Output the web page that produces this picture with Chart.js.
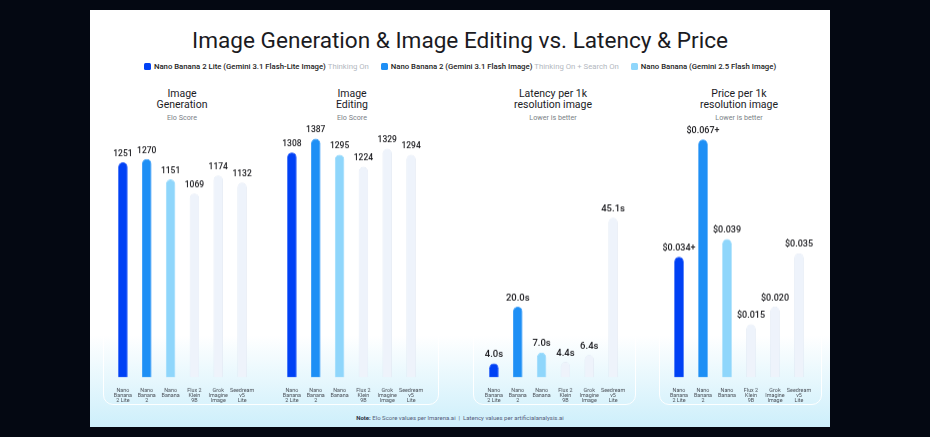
<!DOCTYPE html>
<html>
<head>
<meta charset="utf-8">
<script src="https://cdn.jsdelivr.net/npm/chart.js@4.4.1/dist/chart.umd.min.js"></script>
<style>
  html, body { margin: 0; padding: 0; }
  body { width: 930px; height: 437px; background: #040812; position: relative; overflow: hidden; font-family: Roboto, "Open Sans", sans-serif; }
  .card { position: absolute; left: 90px; top: 10px; width: 740px; height: 417px;
          background: linear-gradient(to bottom, #ffffff 0%, #ffffff 78%, #cdeffb 100%); }
  .title { position: absolute; left: 90px; width: 740px; top: 27px; text-align: center; font-size: 22.6px; color: #1b1b1f; }
  .legend { position: absolute; left: 90px; width: 740px; top: 62px; text-align: center; font-size: 7.75px; font-weight: 500; color: #222; white-space: nowrap; }
  .legend .sw { display: inline-block; width: 7px; height: 7px; border-radius: 1.5px; vertical-align: -1px; margin-right: 3px; }
  .legend .item { margin: 0 5px; }
  .legend .muted { color: #b3b8c0; font-weight: 400; }
  .panel { position: absolute; top: 80px; height: 323px; border: 1px solid rgba(255,255,255,0.95); border-radius: 10px; }
  .ptitle { position: absolute; width: 160px; text-align: center; top: 88px; font-size: 10.5px; line-height: 11px; color: #1b1b1f; }
  .psub { display: block; font-size: 7.2px; color: #7a7f86; margin-top: 4px; line-height: 8px; }
  .chartbox { position: absolute; top: 100px; height: 312.5px; }
  .foot { position: absolute; left: 90px; width: 740px; top: 414px; text-align: center; font-size: 6px; color: #56607a; }
  .foot b { color: #2a3142; }
</style>
</head>
<body>
<div class="card"></div>
<div class="title">Image Generation &amp; Image Editing vs. Latency &amp; Price</div>
<div class="legend">
  <span class="item"><span class="sw" style="background:#0041f5"></span>Nano Banana 2 Lite (Gemini 3.1 Flash-Lite Image) <span class="muted">Thinking On</span></span>
  <span class="item"><span class="sw" style="background:#1e8ff5"></span>Nano Banana 2 (Gemini 3.1 Flash Image) <span class="muted">Thinking On + Search On</span></span>
  <span class="item"><span class="sw" style="background:#8fd6fb"></span>Nano Banana (Gemini 2.5 Flash Image)</span>
</div>

<div class="panel" style="left:103px;width:334px"></div>
<div class="panel" style="left:473px;width:161px"></div>
<div class="panel" style="left:659px;width:161px"></div>

<div class="ptitle" style="left:102px">Image<br>Generation<span class="psub">Elo Score</span></div>
<div class="ptitle" style="left:272px">Image<br>Editing<span class="psub">Elo Score</span></div>
<div class="ptitle" style="left:473px">Latency per 1k<br>resolution image<span class="psub">Lower is better</span></div>
<div class="ptitle" style="left:659px">Price per 1k<br>resolution image<span class="psub">Lower is better</span></div>

<div class="chartbox" style="left:97px;width:171px"><canvas id="genChart"></canvas></div>
<div class="chartbox" style="left:266px;width:171px"><canvas id="editChart"></canvas></div>
<div class="chartbox" style="left:468px;width:171px"><canvas id="latChart"></canvas></div>
<div class="chartbox" style="left:653px;width:172px"><canvas id="priceChart"></canvas></div>

<div class="foot"><b>Note:</b> Elo Score values per lmarena.ai &nbsp;|&nbsp; Latency values per artificialanalysis.ai</div>

<script>
// models, in bar order
const categories = [
    ['Nano', 'Banana', '2 Lite'],
    ['Nano', 'Banana', '2'],
    ['Nano', 'Banana'],
    ['Flux 2', 'Klein', '9B'],
    ['Grok', 'Imagine', 'Image'],
    ['Seedream', 'v5', 'Lite']
];

const genElo = [1251, 1270, 1151, 1069, 1174, 1132];
const editElo = [1308, 1387, 1295, 1224, 1329, 1294];
const latencySec = [4.0, 20.0, 7.0, 4.4, 6.4, 45.1];
const pricePer1k = [0.034, 0.067, 0.039, 0.015, 0.020, 0.035];
const pricePlus = [true, true, false, false, false, false];

const barColors = ['#0041f5', '#1e8ff5', '#8fd6fb', '#eef3fb', '#eef3fb', '#eef3fb'];
const barBorders = ['#0041f5', '#1e8ff5', '#8fd6fb', '#e2e9f4', '#e2e9f4', '#e2e9f4'];

// value text above each bar
const valueLabels = {
    id: 'valueLabels',
    afterDatasetsDraw(chart, args, opts) {
        const ctx = chart.ctx;
        const meta = chart.getDatasetMeta(0);
        const values = chart.data.datasets[0].data;
        ctx.save();
        ctx.font = '500 ' + opts.size + 'px Roboto, sans-serif';
        ctx.fillStyle = '#1b1b1f';
        ctx.textAlign = 'center';
        ctx.textBaseline = 'bottom';
        meta.data.forEach(function(bar, i) {
            ctx.fillText(opts.format(values[i], i), bar.x, bar.y - 4);
        });
        ctx.restore();
    }
};

function makeChart(id, values, yMax, fontSize, format) {
    const ctx = document.getElementById(id).getContext('2d');
    return new Chart(ctx, {
        type: 'bar',
        data: {
            labels: categories,
            datasets: [{
                data: values,
                backgroundColor: barColors,
                borderColor: barBorders,
                borderWidth: 0.8,
                borderRadius: 5,
                borderSkipped: 'bottom',
                barPercentage: 0.4,
                categoryPercentage: 1
            }]
        },
        options: {
            responsive: true,
            maintainAspectRatio: false,
            animation: false,
            layout: { padding: { left: 14, right: 14, top: 0, bottom: 0 } },
            plugins: {
                legend: { display: false },
                tooltip: { enabled: false },
                valueLabels: { size: fontSize, format: format }
            },
            scales: {
                y: { display: false, beginAtZero: true, min: 0, max: yMax },
                x: {
                    grid: { display: false, drawTicks: false },
                    border: { display: false },
                    ticks: {
                        autoSkip: false,
                        maxRotation: 0,
                        padding: 10.5,
                        color: '#4a4f57',
                        font: { size: 5.4, family: 'Roboto, sans-serif', lineHeight: 0.92 }
                    }
                }
            }
        },
        plugins: [valueLabels]
    });
}

makeChart('genChart', genElo, 1612, 8.5, function(v) { return String(v); });
makeChart('editChart', editElo, 1612, 8.5, function(v) { return String(v); });
makeChart('latChart', latencySec, 78.3, 9.5, function(v) { return v.toFixed(1) + 's'; });
makeChart('priceChart', pricePer1k, 0.0781, 9, function(v, i) {
    return '$' + v.toFixed(3) + (pricePlus[i] ? '+' : '');
});
</script>
</body>
</html>
